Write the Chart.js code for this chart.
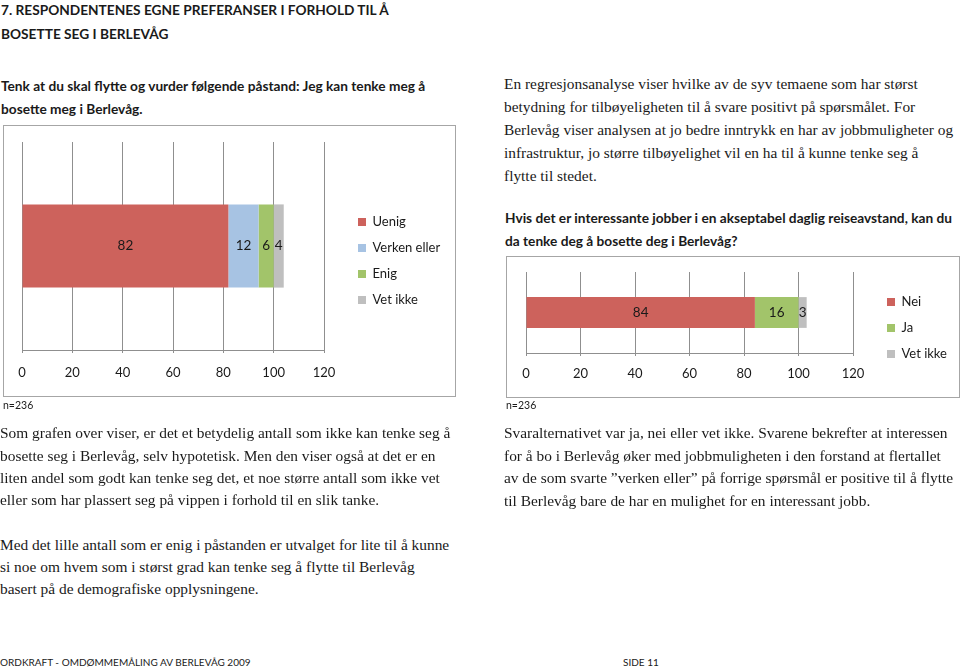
<!DOCTYPE html>
<html lang="no">
<head>
  <meta charset="UTF-8">
  <title>Berlevåg - side 11</title>
  <script src="https://cdn.jsdelivr.net/npm/chart.js@4.4.1/dist/chart.umd.min.js"></script>
  <style>
    body { margin: 0; background: #fff; }
    #side { position: relative; width: 960px; height: 670px; overflow: hidden; color: #1a1a1a; }
    .linje { position: absolute; white-space: nowrap; line-height: 20px; height: 20px; }
    .tittel { font-family: Lato, sans-serif; font-weight: bold; font-size: 13.7px; }
    .brod { font-family: "Liberation Serif", serif; font-size: 15.4px; }
    .liten { font-family: Lato, sans-serif; font-size: 10.5px; }
    .fot { font-family: Lato, sans-serif; font-size: 10px; }
    .ramme { position: absolute; border: 1px solid #a6a6a6; box-sizing: border-box; }
    .graf { position: absolute; }
  </style>
</head>
<body>
<div id="side">
  <div class="linje tittel" style="left:1px;top:0px">7. RESPONDENTENES EGNE PREFERANSER I FORHOLD TIL Å</div>
  <div class="linje tittel" style="left:1px;top:24px">BOSETTE SEG I BERLEVÅG</div>
  <div class="linje tittel" style="left:1px;top:76px">Tenk at du skal flytte og vurder følgende påstand: Jeg kan tenke meg å</div>
  <div class="linje tittel" style="left:1px;top:99px">bosette meg i Berlevåg.</div>

  <div class="linje brod" style="left:504px;top:74px">En regresjonsanalyse viser hvilke av de syv temaene som har størst</div>
  <div class="linje brod" style="left:504px;top:97px">betydning for tilbøyeligheten til å svare positivt på spørsmålet. For</div>
  <div class="linje brod" style="left:504px;top:120px">Berlevåg viser analysen at jo bedre inntrykk en har av jobbmuligheter og</div>
  <div class="linje brod" style="left:504px;top:143px">infrastruktur, jo større tilbøyelighet vil en ha til å kunne tenke seg å</div>
  <div class="linje brod" style="left:504px;top:166px">flytte til stedet.</div>

  <div class="linje tittel" style="left:505px;top:208px">Hvis det er interessante jobber i en akseptabel daglig reiseavstand, kan du</div>
  <div class="linje tittel" style="left:505px;top:231px">da tenke deg å bosette deg i Berlevåg?</div>

  <div class="ramme" style="left:3px;top:125px;width:453px;height:272px"></div>
  <div class="graf" style="left:4px;top:126px;width:442px;height:270px"><canvas id="graf1"></canvas></div>

  <div class="ramme" style="left:506px;top:256px;width:454px;height:142px"></div>
  <div class="graf" style="left:507px;top:257px;width:444px;height:140px"><canvas id="graf2"></canvas></div>

  <div class="linje liten" style="left:3px;top:395px">n=236</div>
  <div class="linje liten" style="left:506px;top:395px">n=236</div>

  <div class="linje brod" style="left:0px;top:423px">Som grafen over viser, er det et betydelig antall som ikke kan tenke seg å</div>
  <div class="linje brod" style="left:0px;top:446px">bosette seg i Berlevåg, selv hypotetisk. Men den viser også at det er en</div>
  <div class="linje brod" style="left:0px;top:468px">liten andel som godt kan tenke seg det, et noe større antall som ikke vet</div>
  <div class="linje brod" style="left:0px;top:490px">eller som har plassert seg på vippen i forhold til en slik tanke.</div>

  <div class="linje brod" style="left:504px;top:423px">Svaralternativet var ja, nei eller vet ikke. Svarene bekrefter at interessen</div>
  <div class="linje brod" style="left:504px;top:446px">for å bo i Berlevåg øker med jobbmuligheten i den forstand at flertallet</div>
  <div class="linje brod" style="left:504px;top:468px">av de som svarte ”verken eller” på forrige spørsmål er positive til å flytte</div>
  <div class="linje brod" style="left:504px;top:491px">til Berlevåg bare de har en mulighet for en interessant jobb.</div>

  <div class="linje brod" style="left:0px;top:535px">Med det lille antall som er enig i påstanden er utvalget for lite til å kunne</div>
  <div class="linje brod" style="left:0px;top:557px">si noe om hvem som i størst grad kan tenke seg å flytte til Berlevåg</div>
  <div class="linje brod" style="left:0px;top:579px">basert på de demografiske opplysningene.</div>

  <div class="linje fot" style="left:0px;top:652px">ORDKRAFT - OMDØMMEMÅLING AV BERLEVÅG 2009</div>
  <div class="linje fot" style="left:623px;top:652px">SIDE 11</div>
</div>

<script>
  // Data (prosent)
  const kategori = [''];
  const svar1 = ['Uenig', 'Verken eller', 'Enig', 'Vet ikke'];
  const verdier1 = [82, 12, 6, 4];
  const svar2 = ['Nei', 'Ja', 'Vet ikke'];
  const verdier2 = [84, 16, 3];
  const xTicks = [0, 20, 40, 60, 80, 100, 120];

  const farger1 = ['#cd625c', '#a7c3e3', '#a2c46a', '#bfbfbf'];
  const farger2 = ['#cd625c', '#a2c46a', '#bfbfbf'];
  const rutenett = '#8f8f8f';
  const font = { family: 'Lato', size: 13 };

  // Tallverdier midt i hvert segment
  const verdiEtiketter = {
    id: 'verdiEtiketter',
    afterDatasetsDraw(chart) {
      const ctx = chart.ctx;
      ctx.save();
      ctx.font = '13.5px Lato';
      ctx.fillStyle = '#1a1a1a';
      ctx.textAlign = 'center';
      ctx.textBaseline = 'middle';
      chart.data.datasets.forEach((ds, i) => {
        chart.getDatasetMeta(i).data.forEach((bar, j) => {
          const x = (bar.x + bar.base) / 2;
          ctx.fillText(String(ds.data[j]), x, bar.y);
        });
      });
      ctx.restore();
    }
  };

  const lagDatasett = (navn, verdier, farger, bredde) => navn.map((n, i) => ({
    label: n,
    data: [verdier[i]],
    backgroundColor: farger[i],
    borderWidth: 0,
    categoryPercentage: 1,
    barPercentage: bredde
  }));

  const lagGraf = (id, navn, verdier, farger, oppsett) => new Chart(document.getElementById(id), {
    type: 'bar',
    data: { labels: kategori, datasets: lagDatasett(navn, verdier, farger, oppsett.bredde) },
    options: {
      indexAxis: 'y',
      responsive: true,
      maintainAspectRatio: false,
      animation: false,
      layout: { padding: { left: oppsett.venstre, top: oppsett.topp, bottom: oppsett.bunn, right: 0 } },
      scales: {
        x: {
          stacked: true,
          min: xTicks[0],
          max: xTicks[xTicks.length - 1],
          afterBuildTicks: (akse) => { akse.ticks = xTicks.map(v => ({ value: v })); },
          afterFit: (akse) => { akse.height = oppsett.aksehoyde; },
          grid: { color: rutenett, lineWidth: 1, tickLength: 3, drawTicks: true },
          border: { color: rutenett, width: 1 },
          ticks: { font: font, color: '#1a1a1a', padding: oppsett.tickpad, maxRotation: 0 }
        },
        y: {
          stacked: true,
          position: 'right',
          grid: { display: false },
          border: { display: false },
          ticks: { display: false },
          afterFit: (akse) => { akse.width = 21; }
        }
      },
      plugins: {
        legend: {
          position: 'right',
          align: 'center',
          maxWidth: oppsett.legendebredde,
          labels: { boxWidth: 8, boxHeight: 8, padding: 13, font: font, color: '#1a1a1a' }
        },
        tooltip: { enabled: false }
      }
    },
    plugins: [verdiEtiketter]
  });

  lagGraf('graf1', svar1, verdier1, farger1,
    { bredde: 0.4, venstre: 18, topp: 16, bunn: 16, aksehoyde: 30, tickpad: 12, legendebredde: 101 });
  lagGraf('graf2', svar2, verdier2, farger2,
    { bredde: 0.38, venstre: 19, topp: 15, bunn: 13, aksehoyde: 31, tickpad: 10, legendebredde: 77 });
</script>
</body>
</html>
